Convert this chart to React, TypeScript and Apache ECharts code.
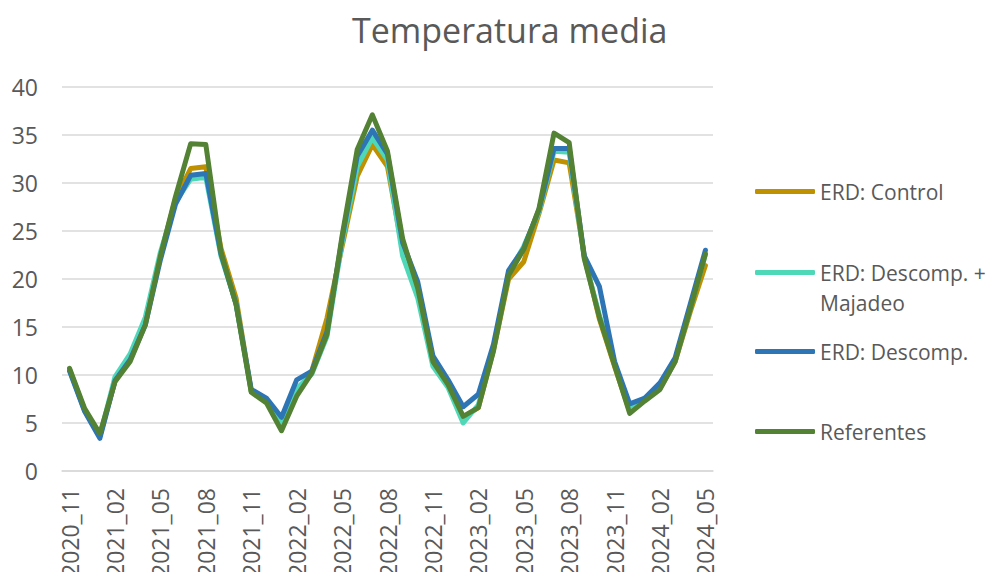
import React, { useEffect, useRef } from "react";
import * as echarts from "echarts";

const categories = [
  "2020_11", "2020_12", "2021_01", "2021_02", "2021_03", "2021_04", "2021_05", "2021_06",
  "2021_07", "2021_08", "2021_09", "2021_10", "2021_11", "2021_12", "2022_01", "2022_02",
  "2022_03", "2022_04", "2022_05", "2022_06", "2022_07", "2022_08", "2022_09", "2022_10",
  "2022_11", "2022_12", "2023_01", "2023_02", "2023_03", "2023_04", "2023_05", "2023_06",
  "2023_07", "2023_08", "2023_09", "2023_10", "2023_11", "2023_12", "2024_01", "2024_02",
  "2024_03", "2024_04", "2024_05",
];

const control = [
  10.6, 6.3, 3.6, 9.4, 11.8, 15.6, 22.4, 28.4, 31.5, 31.7, 23.2, 18.0, 8.3, 7.3, 4.6, 8.2,
  10.4, 15.9, 23.4, 30.7, 34.0, 31.7, 23.0, 18.6, 11.2, 8.9, 5.6, 6.6, 12.6, 20.0, 21.8, 26.8,
  32.4, 32.1, 22.4, 15.8, 10.9, 6.2, 7.4, 8.6, 11.4, 16.6, 21.4,
];

const descompMajadeo = [
  10.5, 6.3, 3.6, 9.8, 12.2, 16.0, 22.8, 28.0, 30.4, 30.6, 22.4, 17.4, 8.3, 7.4, 4.8, 8.6,
  10.1, 14.0, 23.8, 31.7, 34.7, 32.4, 22.4, 18.0, 10.9, 8.7, 5.0, 6.9, 12.8, 20.6, 23.4, 27.0,
  33.3, 33.2, 22.2, 16.2, 11.2, 6.6, 7.6, 8.8, 11.5, 17.0, 22.6,
];

const descomp = [
  10.4, 6.2, 3.4, 9.4, 11.6, 15.2, 22.0, 27.8, 30.8, 31.0, 22.6, 17.4, 8.5, 7.6, 5.6, 9.5,
  10.4, 14.5, 24.2, 32.8, 35.5, 33.0, 23.8, 19.7, 12.0, 9.5, 6.7, 8.0, 13.2, 20.9, 23.2, 27.2,
  33.6, 33.6, 22.4, 19.2, 11.4, 7.0, 7.6, 9.2, 11.8, 17.4, 23.0,
];

const referentes = [
  10.7, 6.5, 3.9, 9.3, 11.4, 15.2, 22.4, 28.6, 34.1, 34.0, 22.8, 17.3, 8.2, 7.1, 4.2, 7.8,
  10.2, 14.2, 24.5, 33.5, 37.1, 33.3, 24.2, 19.0, 11.4, 9.0, 5.7, 6.6, 12.5, 20.4, 23.1, 27.3,
  35.2, 34.2, 22.1, 16.0, 11.0, 6.0, 7.3, 8.5, 11.4, 16.9, 22.6,
];

const yTicks = { min: 0, max: 40, interval: 5 };

const FONT = "'Open Sans', 'Noto Sans', sans-serif";
const TEXT = "#595959";

export default function App() {
  const ref = useRef<HTMLDivElement>(null);

  useEffect(() => {
    if (!ref.current) return;
    const chart = echarts.init(ref.current, null, { renderer: "svg" });

    const mk = (name: string, data: number[], color: string, z: number) => ({
      name,
      type: "line",
      data,
      symbol: "none",
      z,
      lineStyle: { color, width: 5, join: "round", cap: "round" },
      itemStyle: { color },
    });

    const legendBase = {
      orient: "vertical",
      left: 755,
      icon: "roundRect",
      itemWidth: 60,
      itemHeight: 5,
      itemGap: 8,
      padding: 0,
      textStyle: { color: TEXT, fontSize: 21, fontFamily: FONT, padding: [0, 0, 0, 0] },
      selectedMode: false,
    };

    chart.setOption({
      animation: false,
      textStyle: { fontFamily: FONT },
      title: {
        text: "Temperatura media",
        left: 347,
        top: 8,
        textStyle: { color: TEXT, fontSize: 34, fontWeight: "normal", fontFamily: FONT },
      },
      grid: { left: 62, right: 285, top: 87, bottom: 106, containLabel: false },
      xAxis: {
        type: "category",
        data: categories,
        boundaryGap: true,
        axisLine: { show: true, lineStyle: { color: "#d9d9d9", width: 1.5 } },
        axisTick: { show: false },
        axisLabel: {
          interval: 2,
          rotate: 90,
          margin: 17,
          color: TEXT,
          fontSize: 23,
          fontFamily: FONT,
        },
      },
      yAxis: {
        type: "value",
        min: yTicks.min,
        max: yTicks.max,
        interval: yTicks.interval,
        axisLine: { show: false },
        axisTick: { show: false },
        splitLine: { lineStyle: { color: "#d9d9d9", width: 1.5 } },
        axisLabel: { color: TEXT, fontSize: 23, fontFamily: FONT, margin: 24 },
      },
      legend: [
        { ...legendBase, top: 181, data: ["ERD: Control"] },
        {
          ...legendBase,
          top: 262,
          data: ["ERD: Descomp. + Majadeo"],
          formatter: () => "ERD: Descomp. +",
        },
        { ...legendBase, top: 341, data: ["ERD: Descomp."] },
        { ...legendBase, top: 421, data: ["Referentes"] },
      ],
      graphic: [
        {
          type: "text",
          left: 820,
          top: 292,
          style: { text: "Majadeo", fill: TEXT, fontSize: 21, fontFamily: FONT },
        },
      ],
      series: [
        mk("ERD: Control", control, "#bf9000", 1),
        mk("ERD: Descomp. + Majadeo", descompMajadeo, "#4fd8b8", 2),
        mk("ERD: Descomp.", descomp, "#2e75b6", 3),
        mk("Referentes", referentes, "#548235", 4),
      ],
    });

    return () => chart.dispose();
  }, []);

  return <div ref={ref} style={{ width: 998, height: 580, margin: -8 }} />;
}
